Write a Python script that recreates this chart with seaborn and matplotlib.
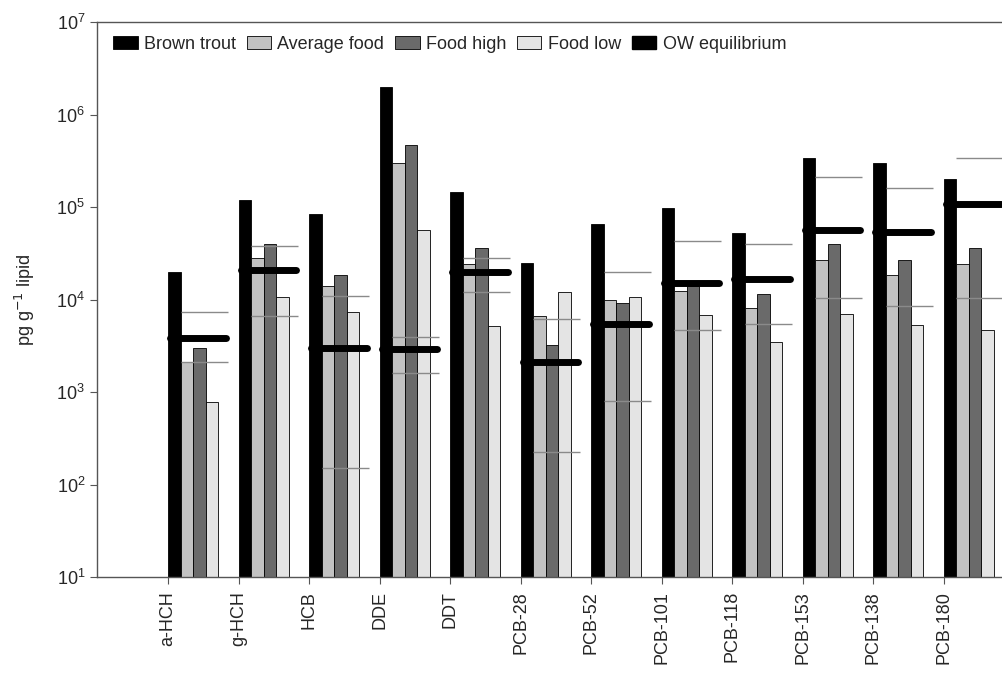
import numpy as np
import pandas as pd
import seaborn as sns
import matplotlib.pyplot as plt
from matplotlib.patches import Patch

compounds = ['a-HCH', 'g-HCH', 'HCB', 'DDE', 'DDT', 'PCB-28', 'PCB-52',
             'PCB-101', 'PCB-118', 'PCB-153', 'PCB-138', 'PCB-180']
brown_trout = [2.0e4, 1.2e5, 8.4e4, 2.0e6, 1.47e5, 2.5e4, 6.6e4, 9.7e4, 5.3e4, 3.4e5, 3.0e5, 2.0e5]
average_food = [2.1e3, 2.8e4, 1.4e4, 3.0e5, 2.4e4, 6.6e3, 9.9e3, 1.25e4, 8.2e3, 2.7e4, 1.85e4, 2.4e4]
food_high = [3.0e3, 4.0e4, 1.85e4, 4.65e5, 3.6e4, 3.2e3, 9.1e3, 1.4e4, 1.15e4, 4.0e4, 2.7e4, 3.65e4]
food_low = [780, 1.07e4, 7.4e3, 5.6e4, 5.2e3, 1.2e4, 1.07e4, 6.8e3, 3.5e3, 6.9e3, 5.3e3, 4.7e3]
ow_equilibrium = [3.8e3, 2.1e4, 3.0e3, 2.9e3, 2.0e4, 2.1e3, 5.4e3, 1.5e4, 1.65e4, 5.7e4, 5.4e4, 1.08e5]
ow_upper = [7.3e3, 3.8e4, 1.08e4, 3.9e3, 2.8e4, 6.1e3, 2.0e4, 4.3e4, 4.0e4, 2.1e5, 1.6e5, 3.4e5]
ow_lower = [2.1e3, 6.6e3, 150, 1.6e3, 1.2e4, 224, 806, 4.7e3, 5.5e3, 1.03e4, 8.6e3, 1.03e4]

series = ['Brown trout', 'Average food', 'Food high', 'Food low']
colors = ['#000000', '#c2c2c2', '#6a6a6a', '#e4e4e4']

df = pd.DataFrame({'compound': compounds * 4,
                   'series': np.repeat(series, len(compounds)),
                   'value': brown_trout + average_food + food_high + food_low})

sns.set_style('ticks')
plt.rcParams['font.family'] = ['Liberation Sans', 'DejaVu Sans']

fig = plt.figure(figsize=(10.02, 6.8), dpi=100)
ax = fig.add_axes([0.0968, 0.1515, 0.9032, 0.816])
ax.set_yscale('log')

group_w = 0.709
sns.barplot(data=df, x='compound', y='value', hue='series', palette=colors,
            width=group_w, edgecolor='black', linewidth=0.6, legend=False,
            ax=ax, dodge=True)

left_edge = np.arange(len(compounds)) - group_w / 2
bar_w = group_w / 4

# OW equilibrium ranges (thin grey) and equilibrium value (thick black)
ax.hlines(ow_upper, left_edge + bar_w, left_edge + 0.85, color='#8a8a8a', lw=1.0, zorder=3)
ax.hlines(ow_lower, left_edge + bar_w, left_edge + 0.85, color='#8a8a8a', lw=1.0, zorder=3)
ax.hlines(ow_equilibrium, left_edge + 0.035, left_edge + 0.82, color='black', lw=5,
          capstyle='round', zorder=4)

ax.set_ylim(10, 1e7)
ax.set_xlim(-1.362, 11.475)
ax.set_xticks(left_edge)
ax.set_xticklabels(compounds, rotation=90, fontsize=13)
ax.set_xlabel('')
ax.set_ylabel('pg g$^{-1}$ lipid', fontsize=13, labelpad=14)
ax.yaxis.set_minor_locator(plt.NullLocator())
ax.tick_params(axis='y', labelsize=13, length=5, color='#555555')
ax.tick_params(axis='x', length=5, color='#555555', pad=5)
for s in ['left', 'bottom', 'top']:
    ax.spines[s].set_color('#555555')
    ax.spines[s].set_linewidth(1.0)
ax.spines['right'].set_visible(False)

handles = [Patch(facecolor=c, edgecolor='black', linewidth=0.6) for c in colors]
handles.append(Patch(facecolor='black', edgecolor='black'))
ax.legend(handles, series + ['OW equilibrium'], loc='upper left',
          bbox_to_anchor=(0.003, 1.0), ncol=5, frameon=False, fontsize=13,
          handlelength=1.35, handleheight=0.75, handletextpad=0.35,
          columnspacing=0.6, borderaxespad=0.35)

fig.savefig('out.png', dpi=100)
